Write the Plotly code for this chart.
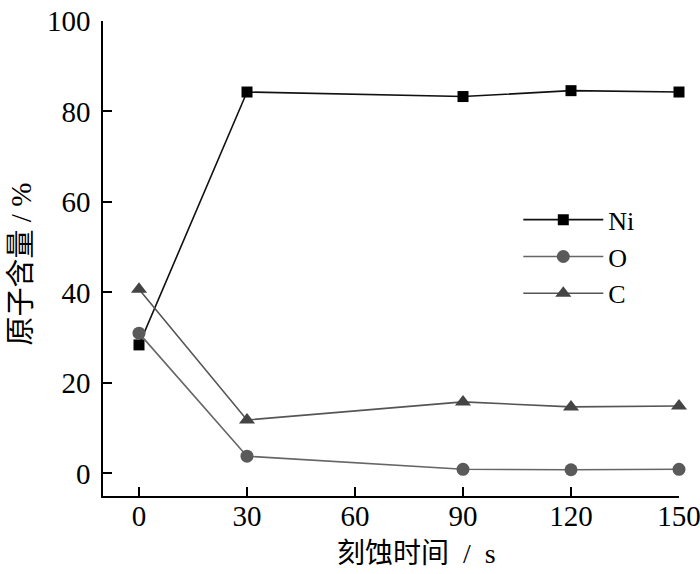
import plotly.graph_objects as go

# etching time (s) and atomic content (%)
etch_time = [0, 30, 90, 120, 150]
ni_pct = [28.4, 84.3, 83.3, 84.6, 84.3]
o_pct = [31.0, 3.8, 0.9, 0.8, 0.9]
c_pct = [40.7, 11.8, 15.8, 14.7, 14.9]

x_ticks = [0, 30, 60, 90, 120, 150]
y_ticks = [0, 20, 40, 60, 80, 100]

serif = "Liberation Serif, Times New Roman, Noto Sans CJK SC, serif"

fig = go.Figure()

fig.add_trace(go.Scatter(
    x=etch_time, y=ni_pct, name="Ni", mode="lines+markers",
    line=dict(color="#111111", width=1.6),
    marker=dict(symbol="square", size=11, color="#000000"),
    cliponaxis=False
))
fig.add_trace(go.Scatter(
    x=etch_time, y=o_pct, name="O", mode="lines+markers",
    line=dict(color="#666666", width=1.6),
    marker=dict(symbol="circle", size=13, color="#5a5a5a"),
    cliponaxis=False
))
fig.add_trace(go.Scatter(
    x=etch_time, y=c_pct, name="C", mode="lines+markers",
    line=dict(color="#555555", width=1.6),
    marker=dict(symbol="triangle-up", size=14, color="#444444"),
    cliponaxis=False
))

fig.update_layout(
    width=700, height=574,
    margin=dict(l=103, r=21, t=21, b=78),
    plot_bgcolor="white", paper_bgcolor="white",
    font=dict(family=serif, size=29, color="black"),
    showlegend=True,
    legend=dict(
        x=0.721, y=0.631, xanchor="left", yanchor="top",
        bgcolor="rgba(0,0,0,0)", itemwidth=80,
        font=dict(family=serif, size=26), tracegroupgap=0
    ),
)

# axis titles as annotations (the x title sits right of centre in the original)
fig.add_annotation(
    text="刻蚀时间\u00a0\u00a0/\u00a0\u00a0s", xref="paper", yref="paper",
    x=0.545, y=-0.12, xanchor="center", yanchor="middle",
    showarrow=False, font=dict(family=serif, size=28)
)
fig.add_annotation(
    text="原子含量\u00a0/\u00a0%", xref="paper", yref="paper", textangle=-90,
    x=-0.142, y=0.488, xanchor="center", yanchor="middle",
    showarrow=False, font=dict(family=serif, size=29)
)

fig.update_xaxes(
    range=[-10, 150], tickvals=x_ticks, automargin=False,
    showline=True, linecolor="black", linewidth=1.5,
    ticks="inside", ticklen=9, tickwidth=1.5, tickcolor="black",
    showgrid=False, zeroline=False, mirror=False,
    tickfont=dict(family=serif, size=29), ticklabelstandoff=-7,
    ticklabeloverflow="allow"
)
fig.update_yaxes(
    range=[-5, 100], tickvals=y_ticks, automargin=False,
    showline=True, linecolor="black", linewidth=1.5,
    ticks="inside", ticklen=9, tickwidth=1.5, tickcolor="black",
    showgrid=False, zeroline=False, mirror=False,
    tickfont=dict(family=serif, size=29), ticklabelstandoff=5,
    ticklabeloverflow="allow"
)

# drop the default 8px body margin so the figure fills the window
fig.write_html("out.html", config={"displayModeBar": False},
               post_script="document.body.style.margin = '0';")
